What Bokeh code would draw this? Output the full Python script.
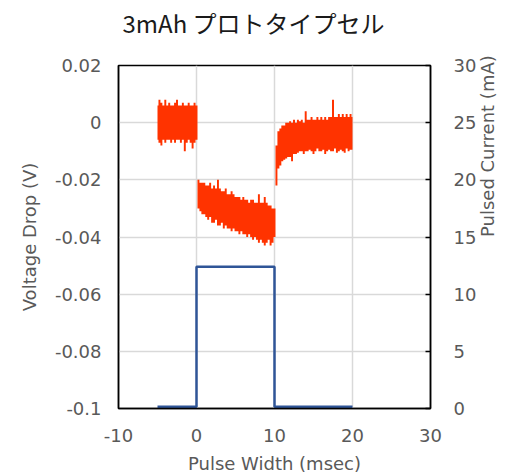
import math
from bokeh.plotting import figure
from bokeh.models import Range1d, LinearAxis, FixedTicker, Title
from bokeh.embed import file_html
from bokeh.resources import INLINE

# ---- data ----
time_ms = [-5.0, -4.75, -4.5, -4.25, -4.0, -3.75, -3.5, -3.25, -3.0, -2.75,
           -2.5, -2.25, -2.0, -1.75, -1.5, -1.25, -1.0, -0.75, -0.5, -0.25,
           0.0, 0.25, 0.5, 0.75, 1.0, 1.25, 1.5, 1.75, 2.0, 2.25,
           2.5, 2.75, 3.0, 3.25, 3.5, 3.75, 4.0, 4.25, 4.5, 4.75,
           5.0, 5.25, 5.5, 5.75, 6.0, 6.25, 6.5, 6.75, 7.0, 7.25,
           7.5, 7.75, 8.0, 8.25, 8.5, 8.75, 9.0, 9.25, 9.5, 9.75,
           10.0, 10.25, 10.5, 10.75, 11.0, 11.25, 11.5, 11.75, 12.0, 12.25,
           12.5, 12.75, 13.0, 13.25, 13.5, 13.75, 14.0, 14.25, 14.5, 14.75,
           15.0, 15.25, 15.5, 15.75, 16.0, 16.25, 16.5, 16.75, 17.0, 17.25,
           17.5, 17.75, 18.0, 18.25, 18.5, 18.75, 19.0, 19.25, 19.5, 19.75, 20.0]
# upper / lower edge of the noisy voltage trace (V)
voltage_upper = [0.006, 0.008, 0.007, 0.006, 0.008, 0.006, 0.007, 0.006, 0.006, 0.007,
                 0.008, 0.006, 0.006, 0.007, 0.006, 0.006, 0.007, 0.006, 0.006, 0.007,
                 0.006, -0.020, -0.021, -0.021, -0.021, -0.022, -0.022, -0.021, -0.023, -0.022,
                 -0.023, -0.020, -0.023, -0.024, -0.024, -0.023, -0.025, -0.025, -0.024, -0.025,
                 -0.026, -0.026, -0.026, -0.027, -0.026, -0.027, -0.027, -0.028, -0.027, -0.027,
                 -0.028, -0.028, -0.025, -0.028, -0.028, -0.026, -0.028, -0.029, -0.029, -0.030,
                 -0.030, -0.008, -0.003, -0.002, -0.001, -0.001, 0.000, 0.000, 0.0005, 0.000,
                 0.001, 0.000, 0.001, 0.0005, 0.001, 0.000, 0.004, 0.001, 0.001, 0.002,
                 0.001, 0.001, 0.002, 0.001, 0.002, 0.001, 0.002, 0.001, 0.002, 0.002,
                 0.008, 0.002, 0.002, 0.003, 0.002, 0.003, 0.002, 0.003, 0.002, 0.003, 0.002]
voltage_lower = [-0.006, -0.007, -0.008, -0.006, -0.007, -0.006, -0.006, -0.007, -0.006, -0.007,
                 -0.006, -0.006, -0.007, -0.006, -0.010, -0.007, -0.006, -0.007, -0.009, -0.007,
                 -0.006, -0.030, -0.031, -0.032, -0.032, -0.033, -0.034, -0.033, -0.035, -0.035,
                 -0.034, -0.036, -0.036, -0.035, -0.037, -0.036, -0.037, -0.037, -0.038, -0.037,
                 -0.038, -0.038, -0.039, -0.038, -0.039, -0.039, -0.040, -0.039, -0.040, -0.041,
                 -0.040, -0.041, -0.042, -0.041, -0.042, -0.043, -0.042, -0.041, -0.043, -0.042,
                 -0.040, -0.022, -0.016, -0.015, -0.0135, -0.013, -0.0125, -0.012, -0.012, -0.0135,
                 -0.011, -0.011, -0.0105, -0.010, -0.010, -0.011, -0.010, -0.010, -0.0095, -0.010,
                 -0.011, -0.010, -0.009, -0.010, -0.010, -0.0095, -0.011, -0.010, -0.0095, -0.010,
                 -0.010, -0.009, -0.0105, -0.010, -0.0095, -0.010, -0.0105, -0.009, -0.010, -0.0095, -0.0095]

pulse_time = [-5, 0, 0, 10, 10, 20]
pulse_current = [0.15, 0.15, 12.4, 12.4, 0.15, 0.15]

x_ticks = [-10, 0, 10, 20, 30]
x_tick_labels = ["-10", "0", "10", "20", "30"]
v_ticks = [-0.1, -0.08, -0.06, -0.04, -0.02, 0, 0.02]
v_tick_labels = ["-0.1", "-0.08", "-0.06", "-0.04", "-0.02", "0", "0.02"]
i_ticks = [0, 5, 10, 15, 20, 25, 30]

title_text = "3mAh プロトタイプセル"
x_label = "Pulse Width (msec)"
y_label = "Voltage Drop (V)"
y2_label = "Pulsed Current (mA)"

# ---- figure ----
FONT = "DejaVu Sans"
GRAY = "#595959"

p = figure(width=511, height=476,
           x_range=Range1d(-10, 30), y_range=Range1d(-0.1, 0.02),
           output_backend="svg", toolbar_location=None,
           min_border_left=118, min_border_right=79,
           min_border_top=65, min_border_bottom=68)
p.extra_y_ranges = {"current": Range1d(0, 30)}

p.title.text = title_text
p.title.text_font = "Noto Sans CJK JP"
p.title.text_font_size = "24px"
p.title.text_font_style = "normal"
p.title.text_color = "#1a1a1a"
p.title.align = "left"
p.title.offset = 4
p.title.standoff = 0

# empty spacer title to lift the main title away from the frame
p.add_layout(Title(text=" ", text_font_size="12px", standoff=10), "above")

p.outline_line_color = "black"
p.outline_line_width = 1.5
p.background_fill_color = "white"
p.border_fill_color = "white"

p.xgrid.grid_line_color = "#D9D9D9"
p.ygrid.grid_line_color = "#D9D9D9"
p.xgrid.grid_line_width = 1.5
p.ygrid.grid_line_width = 1.5

p.xaxis.ticker = FixedTicker(ticks=x_ticks)
p.xaxis.major_label_overrides = dict(zip(x_ticks, x_tick_labels))
p.yaxis.ticker = FixedTicker(ticks=v_ticks)
p.yaxis.major_label_overrides = dict(zip(v_ticks, v_tick_labels))
p.xaxis.axis_label = x_label
p.yaxis.axis_label = y_label

right = LinearAxis(y_range_name="current", ticker=FixedTicker(ticks=i_ticks),
                   axis_label=y2_label)
p.add_layout(right, "right")

for ax in [p.xaxis[0], p.yaxis[0], right]:
    ax.axis_line_color = "black"
    ax.axis_line_width = 1.5
    ax.major_tick_out = 0
    ax.major_tick_in = 0
    ax.minor_tick_line_color = None
    ax.major_label_text_font = FONT
    ax.major_label_text_font_size = "18px"
    ax.major_label_text_color = GRAY
    ax.axis_label_text_font = FONT
    ax.axis_label_text_font_size = "18px"
    ax.axis_label_text_font_style = "normal"
    ax.axis_label_text_color = GRAY

right.major_tick_in = 5
right.major_tick_line_color = "black"
right.major_tick_line_width = 1.5
right.major_label_standoff = 23
right.axis_label_standoff = 8
right.axis_label_orientation = math.pi / 2
right.axis_label_text_align = "center"
p.yaxis[0].major_label_standoff = 17
p.yaxis[0].axis_label_standoff = 12
p.xaxis[0].major_label_standoff = 20
p.xaxis[0].axis_label_standoff = 8

# voltage trace (noisy band)
p.varea_step(x=time_ms, y1=voltage_lower, y2=voltage_upper,
             step_mode="center", fill_color="#FF3300")
# pulse current
p.line(x=pulse_time, y=pulse_current, y_range_name="current",
       line_color="#2F5597", line_width=2.5)

open("out.html", "w").write(file_html(p, INLINE))
